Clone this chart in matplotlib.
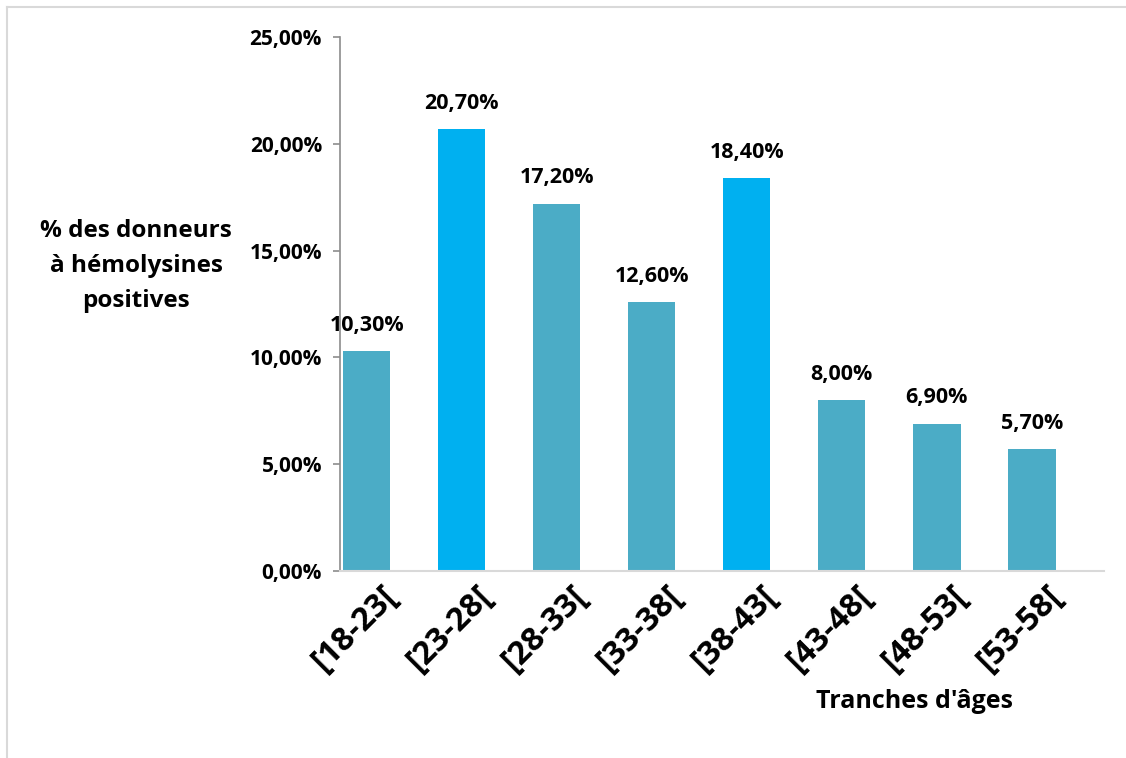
import matplotlib.pyplot as plt
from matplotlib.lines import Line2D
from matplotlib.ticker import FuncFormatter
from matplotlib.transforms import ScaledTranslation

plt.rcParams['font.family'] = ['Open Sans', 'DejaVu Sans']
plt.rcParams['font.weight'] = 'bold'

categories = ["[18-23[", "[23-28[", "[28-33[", "[33-38[", "[38-43[",
              "[43-48[", "[48-53[", "[53-58["]
values = [10.30, 20.70, 17.20, 12.60, 18.40, 8.00, 6.90, 5.70]
highlighted = ["[23-28[", "[38-43["]

base_color = "#4BACC6"
accent_color = "#00B0F0"
colors = [accent_color if c in highlighted else base_color for c in categories]

fig = plt.figure(figsize=(11.26, 7.58), dpi=100)
W, H = 1126, 758
left, right, top, bottom = 340, 1104, 37, 571
ax = fig.add_axes([left / W, 1 - bottom / H, (right - left) / W, (bottom - top) / H])

x = list(range(len(categories)))
bars = ax.bar(x, values, width=0.5, color=colors, zorder=2)

ax.set_ylim(0, 25)
ax.set_xlim(-0.28, len(categories) - 1 + 0.76)
ax.set_yticks([0, 5, 10, 15, 20, 25])
ax.yaxis.set_major_formatter(FuncFormatter(lambda v, p: f"{v:.2f}%".replace(".", ",")))

for s in ["top", "right"]:
    ax.spines[s].set_visible(False)
ax.spines["left"].set_color("#8C8C8C")
ax.spines["left"].set_linewidth(1.2)
ax.spines["bottom"].set_color("#D9D9D9")
ax.spines["bottom"].set_linewidth(1.5)

ax.tick_params(axis="y", direction="out", length=5, color="#8C8C8C", width=1.2,
               labelsize=15, pad=8)
ax.tick_params(axis="x", length=0, pad=6)
ax.set_xticks(x)
ax.set_xticklabels(categories, rotation=45, ha="right", rotation_mode="anchor",
                   fontsize=23.5, fontweight="bold")
shift = ScaledTranslation(14 / 100, 0, fig.dpi_scale_trans)
for lbl in ax.get_xticklabels():
    lbl.set_transform(lbl.get_transform() + shift)
for lbl in ax.get_yticklabels():
    lbl.set_fontweight("bold")

for xi, v in zip(x, values):
    ax.annotate(f"{v:.2f}%".replace(".", ","), (xi, v), xytext=(0, 11),
                textcoords="offset points", ha="center", va="bottom",
                fontsize=15.5, fontweight="bold")

fig.text(136 / W, 1 - 266 / H, "% des donneurs\nà hémolysines\npositives",
         ha="center", va="center", fontsize=17.5, fontweight="bold", linespacing=1.6)
fig.text(915 / W, 1 - 702 / H, "Tranches d'âges", ha="center", va="center",
         fontsize=18, fontweight="bold")

# light frame around the chart area
fig.add_artist(Line2D([7 / W, 7 / W], [0, 1 - 7 / H], transform=fig.transFigure,
                      color="#D9D9D9", linewidth=1.5))
fig.add_artist(Line2D([7 / W, 1], [1 - 7 / H, 1 - 7 / H], transform=fig.transFigure,
                      color="#D9D9D9", linewidth=1.5))

fig.savefig("out.png", dpi=100, facecolor="white")
